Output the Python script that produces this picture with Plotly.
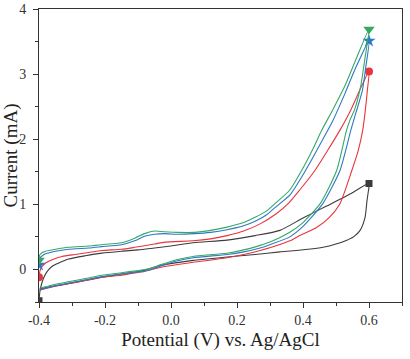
import plotly.graph_objects as go

# ---- data ----
# black series
black_x = [-0.400, -0.397, -0.392, -0.385, -0.375, -0.360, -0.340, -0.310, -0.260, -0.210, -0.150, -0.100,
           -0.050, 0.000, 0.067, 0.170, 0.255, 0.330, 0.400, 0.470, 0.540, 0.600,
           0.598, 0.594, 0.588, 0.573, 0.553, 0.533, 0.500, 0.461, 0.380, 0.330, 0.255, 0.170, 0.067,
           -0.033, -0.079, -0.109, -0.150, -0.209, -0.260, -0.312, -0.360, -0.398]
black_y = [-0.48, -0.33, -0.22, -0.12, -0.03, 0.05, 0.10, 0.16, 0.21, 0.25, 0.28, 0.30,
           0.33, 0.36, 0.41, 0.45, 0.52, 0.60, 0.79, 0.97, 1.15, 1.32,
           1.20, 1.06, 0.80, 0.60, 0.50, 0.45, 0.39, 0.34, 0.29, 0.27, 0.23, 0.19, 0.14,
           0.06, -0.01, -0.04, -0.07, -0.12, -0.17, -0.22, -0.26, -0.30]

# red series
red_x = [-0.400, -0.397, -0.390, -0.380, -0.360, -0.330, -0.290, -0.250, -0.210, -0.150, -0.110, -0.050,
         -0.018, 0.067, 0.120, 0.170, 0.220, 0.270, 0.320, 0.355, 0.390, 0.436, 0.475, 0.512, 0.545, 0.578, 0.600,
         0.595, 0.589, 0.581, 0.567, 0.548, 0.512, 0.480, 0.440, 0.390, 0.360, 0.270, 0.170, 0.067,
         -0.033, -0.080, -0.120, -0.150, -0.209, -0.260, -0.312, -0.360, -0.398]
red_y = [-0.12, -0.02, 0.05, 0.10, 0.15, 0.20, 0.23, 0.26, 0.29, 0.31, 0.34, 0.39,
         0.42, 0.44, 0.47, 0.52, 0.59, 0.70, 0.86, 1.01, 1.22, 1.52, 1.83, 2.14, 2.45, 2.82, 3.04,
         2.75, 2.45, 2.14, 1.82, 1.52, 1.01, 0.80, 0.64, 0.52, 0.44, 0.29, 0.18, 0.11,
         0.03, -0.03, -0.06, -0.09, -0.12, -0.17, -0.22, -0.27, -0.32]

# blue series
blue_x = [-0.400, -0.398, -0.390, -0.380, -0.350, -0.310, -0.250, -0.210, -0.150, -0.110, -0.080, -0.050,
          -0.020, 0.020, 0.070, 0.120, 0.170, 0.220, 0.255, 0.290, 0.315, 0.360, 0.396, 0.430, 0.457,
          0.490, 0.527, 0.560, 0.600,
          0.590, 0.580, 0.560, 0.545, 0.512, 0.460, 0.400, 0.360, 0.300, 0.270, 0.220, 0.170, 0.067,
          0.017, -0.033, -0.060, -0.090, -0.120, -0.150, -0.209, -0.260, -0.312, -0.360, -0.398]
blue_y = [0.07, 0.17, 0.21, 0.24, 0.28, 0.31, 0.33, 0.35, 0.38, 0.44, 0.51, 0.54,
          0.55, 0.54, 0.55, 0.57, 0.61, 0.67, 0.74, 0.84, 0.95, 1.14, 1.42, 1.72, 1.97,
          2.28, 2.70, 3.10, 3.51,
          3.10, 2.75, 2.40, 2.14, 1.52, 1.01, 0.66, 0.50, 0.38, 0.33, 0.27, 0.23, 0.18,
          0.13, 0.05, 0.00, -0.03, -0.05, -0.07, -0.11, -0.16, -0.21, -0.26, -0.31]

# green series
green_x = [-0.400, -0.398, -0.390, -0.380, -0.350, -0.310, -0.250, -0.210, -0.150, -0.110, -0.080, -0.050,
           -0.020, 0.020, 0.070, 0.120, 0.170, 0.220, 0.255, 0.290, 0.315, 0.360, 0.396, 0.430, 0.457,
           0.490, 0.527, 0.560, 0.600,
           0.588, 0.575, 0.556, 0.542, 0.532, 0.502, 0.452, 0.400, 0.360, 0.300, 0.270, 0.220, 0.170, 0.067,
           0.017, -0.033, -0.060, -0.090, -0.120, -0.150, -0.209, -0.260, -0.312, -0.360, -0.398]
green_y = [0.14, 0.22, 0.26, 0.28, 0.31, 0.34, 0.36, 0.38, 0.41, 0.48, 0.55, 0.59,
           0.58, 0.57, 0.57, 0.60, 0.65, 0.72, 0.80, 0.90, 1.01, 1.22, 1.52, 1.85, 2.14,
           2.45, 2.82, 3.22, 3.69,
           3.25, 2.82, 2.45, 2.29, 2.14, 1.52, 1.01, 0.72, 0.57, 0.42, 0.37, 0.30, 0.25, 0.20,
           0.15, 0.07, 0.02, -0.01, -0.03, -0.05, -0.09, -0.14, -0.19, -0.24, -0.29]

x_tickvals = [-0.4, -0.2, 0.0, 0.2, 0.4, 0.6]
x_ticktext = ["-0.4", "-0.2", "0.0", "0.2", "0.4", "0.6"]
y_tickvals = [0, 1, 2, 3, 4]
y_ticktext = ["0", "1", "2", "3", "4"]

series = [
    (black_x, black_y, "#3c3c3c", "square", 7),
    (red_x, red_y, "#e8343d", "circle", 8),
    (blue_x, blue_y, "#2e78c4", "star", 10),
    (green_x, green_y, "#35a866", "triangle-down", 10),
]

fig = go.Figure()
for xs, ys, col, sym, sz in series:
    fig.add_trace(go.Scatter(x=xs, y=ys, mode="lines",
                             line=dict(color=col, width=1.1, shape="spline", smoothing=0.6),
                             showlegend=False, hoverinfo="skip"))
    turn = ys.index(max(ys))
    fig.add_trace(go.Scatter(x=[xs[0], xs[turn]], y=[ys[0], ys[turn]], mode="markers",
                             marker=dict(color=col, symbol=sym, size=sz, line=dict(width=0)),
                             showlegend=False))

font = "Liberation Serif, Times New Roman, serif"
axis_common = dict(
    showline=True, linecolor="#333333", linewidth=1, mirror=True,
    ticks="outside", ticklen=5, tickwidth=1, tickcolor="#333333",
    showgrid=False, zeroline=False, automargin=False,
    tickfont=dict(family=font, size=14, color="#333333"),
)
fig.update_layout(
    width=410, height=359,
    margin=dict(l=39, r=8, t=9, b=57),
    paper_bgcolor="white", plot_bgcolor="white",
    xaxis=dict(range=[-0.4, 0.7], tickvals=x_tickvals, ticktext=x_ticktext,
               ticklabelstandoff=0,
               minor=dict(ticks="outside", ticklen=3, tickcolor="#333333", dtick=0.1, tick0=-0.4),
               title=dict(text="Potential (V) vs. Ag/AgCl", font=dict(family=font, size=19, color="#222222"),
                          standoff=5),
               **axis_common),
    yaxis=dict(range=[-0.5, 4], tickvals=y_tickvals, ticktext=y_ticktext,
               ticklabelstandoff=4,
               minor=dict(ticks="outside", ticklen=3, tickcolor="#333333", dtick=0.5, tick0=0),
               title=dict(text="Current (mA)", font=dict(family=font, size=19, color="#222222"),
                          standoff=6),
               **axis_common),
)
fig.write_html("out.html")
